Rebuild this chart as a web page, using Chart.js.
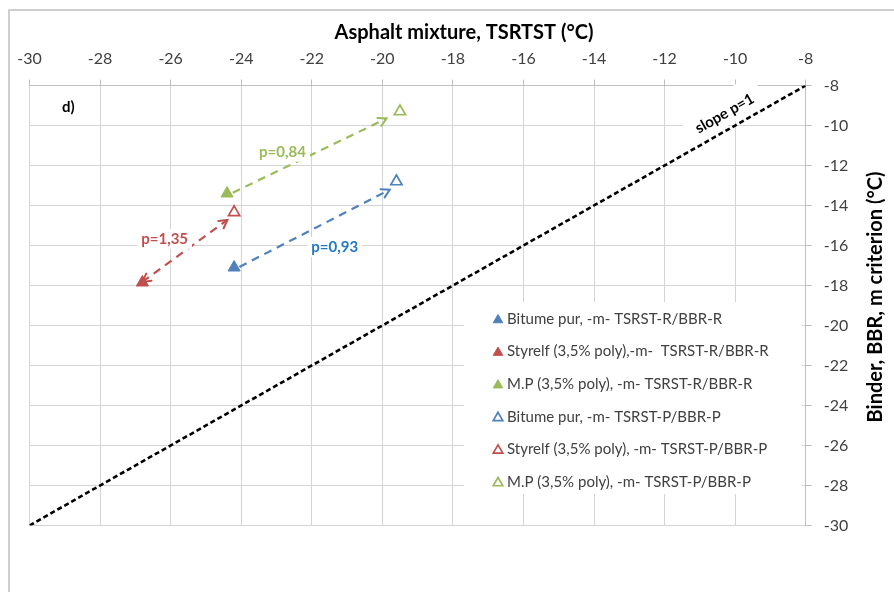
<!DOCTYPE html>
<html>
<head>
<meta charset="utf-8">
<script src="https://cdn.jsdelivr.net/npm/chart.js@4.4.1/dist/chart.umd.min.js"></script>
<style>
  html, body { margin: 0; padding: 0; background: #fff; }
  canvas { display: block; }
</style>
</head>
<body>
<canvas id="chart" width="894" height="592"></canvas>
<script>
// Binders and their colours
const binders = ['Bitume pur', 'Styrelf (3,5% poly)', 'M.P (3,5% poly)'];
const binderColors = ['#4F81BD', '#C0504D', '#9BBB59'];

// Legend texts: R series (filled) then P series (open)
const legendR = [
  'Bitume pur, -m- TSRST-R/BBR-R',
  'Styrelf (3,5% poly),-m-  TSRST-R/BBR-R',
  'M.P (3,5% poly), -m- TSRST-R/BBR-R'
];
const legendP = [
  'Bitume pur, -m- TSRST-P/BBR-P',
  'Styrelf (3,5% poly), -m- TSRST-P/BBR-P',
  'M.P (3,5% poly), -m- TSRST-P/BBR-P'
];

// Mixture TSRST temperature (x) vs binder BBR m-criterion temperature (y), °C
const mixtureR = [-24.2, -26.8, -24.4];
const binderR  = [-17.1, -17.85, -13.4];
const mixtureP = [-19.6, -24.2, -19.5];
const binderP  = [-12.8, -14.34, -9.3];

// Arrows linking R and P results (°C)
const arrowStartX = [-24.05, -26.8, -24.24];
const arrowStartY = [-17.07, -17.82, -13.36];
const arrowEndX   = [-19.79, -24.39, -19.88];
const arrowEndY   = [-13.21, -14.72, -9.65];
const arrowHeads  = ['end', 'both', 'end'];

// Slopes between R and P results
const slopeTexts = ['p=0,93', 'p=1,35', 'p=0,84'];
const slopeTextX = [-21.35, -26.17, -22.83];
const slopeTextY = [-16.07, -15.67, -11.31];

// Equality line and axis ticks
const equalityLine = [-30, -8];
const axisTicks = [-30, -28, -26, -24, -22, -20, -18, -16, -14, -12, -10, -8];

const FONT = 'Lato, "Open Sans", sans-serif';
const TEXT_GREY = '#404040';
const GRID = '#D4D4D4';

const datasets = [];
binders.forEach((b, i) => {
  datasets.push({
    label: legendR[i],
    data: [{ x: mixtureR[i], y: binderR[i] }],
    pointStyle: 'triangle',
    pointRadius: 7,
    pointBackgroundColor: binderColors[i],
    pointBorderColor: binderColors[i],
    pointBorderWidth: 1,
    showLine: false,
    inLegend: true
  });
});
binders.forEach((b, i) => {
  datasets.push({
    label: legendP[i],
    data: [{ x: mixtureP[i], y: binderP[i] }],
    pointStyle: 'triangle',
    pointRadius: 6.5,
    pointBackgroundColor: '#ffffff',
    pointBorderColor: binderColors[i],
    pointBorderWidth: 1.7,
    showLine: false,
    inLegend: true
  });
});
binders.forEach((b, i) => {
  datasets.push({
    label: b + ' R → P',
    data: [
      { x: arrowStartX[i], y: arrowStartY[i] },
      { x: arrowEndX[i], y: arrowEndY[i] }
    ],
    showLine: true,
    borderColor: binderColors[i],
    borderWidth: 2.2,
    borderDash: [8, 6],
    pointRadius: 0,
    arrow: arrowHeads[i]
  });
});
datasets.push({
  label: 'slope p=1',
  data: equalityLine.map(v => ({ x: v, y: v })),
  showLine: true,
  borderColor: '#000000',
  borderWidth: 2.6,
  borderDash: [5, 3],
  pointRadius: 0,
  equality: true
});

// Text placed in data coordinates
const notes = [
  { text: 'd)', x: -28.9, y: -9.1, color: '#000000' }
];
const slopeNote = { text: 'slope p=1', x: -10.3, y: -9.4 };

function drawArrowHead(ctx, from, to, color) {
  const dx = to.x - from.x, dy = to.y - from.y;
  const len = Math.hypot(dx, dy);
  const ux = dx / len, uy = dy / len;
  const L = 8, W = 4.5;
  ctx.save();
  ctx.strokeStyle = color;
  ctx.lineWidth = 2;
  ctx.setLineDash([]);
  ctx.lineCap = 'round';
  ctx.beginPath();
  ctx.moveTo(to.x - ux * L - uy * W, to.y - uy * L + ux * W);
  ctx.lineTo(to.x, to.y);
  ctx.lineTo(to.x - ux * L + uy * W, to.y - uy * L - ux * W);
  ctx.stroke();
  ctx.restore();
}

function slopeGeometry(chart) {
  const meta = chart.getDatasetMeta(chart.data.datasets.findIndex(d => d.equality));
  const a = meta.data[0], b = meta.data[1];
  const angle = Math.atan2(b.y - a.y, b.x - a.x);
  const cx = chart.scales.x.getPixelForValue(slopeNote.x);
  const cy = chart.scales.y.getPixelForValue(slopeNote.y);
  return { angle, cx, cy };
}

const decor = {
  id: 'decor',
  beforeDraw(chart) {
    const ctx = chart.ctx;
    ctx.save();
    ctx.fillStyle = '#ffffff';
    ctx.fillRect(0, 0, chart.width, chart.height);
    ctx.strokeStyle = '#BFBFBF';
    ctx.lineWidth = 1.5;
    ctx.strokeRect(9, 10, chart.width + 20, chart.height + 20);
    ctx.restore();
  },
  beforeDatasetsDraw(chart) {
    // white box behind the equality-line caption
    const ctx = chart.ctx;
    const g = slopeGeometry(chart);
    ctx.save();
    ctx.font = 'bold 15px ' + FONT;
    const w = ctx.measureText(slopeNote.text).width;
    ctx.translate(g.cx, g.cy);
    ctx.rotate(g.angle);
    ctx.fillStyle = '#ffffff';
    ctx.fillRect(-w / 2 - 10, -20, w + 20, 32);
    ctx.restore();
  },
  afterDatasetsDraw(chart) {
    const ctx = chart.ctx;
    const xs = chart.scales.x, ys = chart.scales.y;

    // arrow heads
    chart.data.datasets.forEach((ds, i) => {
      if (!ds.arrow) return;
      const pts = chart.getDatasetMeta(i).data;
      drawArrowHead(ctx, pts[0], pts[1], ds.borderColor);
      if (ds.arrow === 'both') drawArrowHead(ctx, pts[1], pts[0], ds.borderColor);
    });

    // slope captions
    ctx.save();
    ctx.font = 'bold 15px ' + FONT;
    ctx.textAlign = 'center';
    ctx.textBaseline = 'middle';
    const captionColors = ['#1F78C8', binderColors[1], binderColors[2]];
    slopeTexts.forEach((t, i) => {
      const px = xs.getPixelForValue(slopeTextX[i]);
      const py = ys.getPixelForValue(slopeTextY[i]);
      const w = ctx.measureText(t).width;
      ctx.fillStyle = '#ffffff';
      ctx.fillRect(px - w / 2 - 4, py - 10, w + 8, 20);
      ctx.fillStyle = captionColors[i];
      ctx.fillText(t, px, py);
    });
    ctx.restore();

    // equality-line caption
    const g = slopeGeometry(chart);
    ctx.save();
    ctx.font = 'bold 15px ' + FONT;
    ctx.translate(g.cx, g.cy);
    ctx.rotate(g.angle);
    ctx.fillStyle = '#000000';
    ctx.textAlign = 'center';
    ctx.textBaseline = 'middle';
    ctx.fillText(slopeNote.text, 0, 0);
    ctx.restore();

    // panel tag
    ctx.save();
    ctx.font = 'bold 15px ' + FONT;
    ctx.textAlign = 'center';
    ctx.textBaseline = 'middle';
    notes.forEach(n => {
      ctx.fillStyle = n.color;
      ctx.fillText(n.text, xs.getPixelForValue(n.x), ys.getPixelForValue(n.y));
    });
    ctx.restore();

    // legend
    const box = { left: 464, top: 302, right: 802, bottom: 494 };
    ctx.save();
    ctx.fillStyle = '#ffffff';
    ctx.fillRect(box.left, box.top, box.right - box.left, box.bottom - box.top);
    ctx.font = '15px ' + FONT;
    ctx.textAlign = 'left';
    ctx.textBaseline = 'middle';
    let row = 0;
    chart.data.datasets.forEach(ds => {
      if (!ds.inLegend) return;
      const y = 319 + row * 32.6;
      ctx.save();
      ctx.fillStyle = ds.pointBackgroundColor;
      ctx.strokeStyle = ds.pointBorderColor;
      ctx.lineWidth = ds.pointBorderWidth;
      Chart.helpers.drawPoint(ctx, { pointStyle: 'triangle', radius: 5.5, borderWidth: ds.pointBorderWidth, rotation: 0 }, 498, y + 1);
      ctx.restore();
      ctx.fillStyle = TEXT_GREY;
      ctx.fillText(ds.label, 507, y);
      row++;
    });
    ctx.restore();

    // axis titles
    ctx.save();
    ctx.fillStyle = '#000000';
    ctx.font = 'bold 20px ' + FONT;
    ctx.textAlign = 'center';
    ctx.textBaseline = 'middle';
    ctx.fillText('Asphalt mixture, TSRTST (°C)', 464, 33);
    ctx.translate(876, 297);
    ctx.rotate(-Math.PI / 2);
    ctx.fillText('Binder, BBR, m criterion (°C)', 0, 0);
    ctx.restore();
  }
};

const tickSetup = s => { s.ticks = axisTicks.map(v => ({ value: v })); };

new Chart(document.getElementById('chart'), {
  type: 'scatter',
  data: { datasets },
  options: {
    responsive: false,
    animation: false,
    devicePixelRatio: 1,
    layout: { padding: { left: 29.5, right: 0, top: 0, bottom: 66.5 } },
    plugins: { legend: { display: false }, tooltip: { enabled: false } },
    scales: {
      x: {
        type: 'linear',
        position: 'top',
        min: -30, max: -8,
        afterBuildTicks: tickSetup,
        afterFit: s => { s.height = 85.5; },
        ticks: { font: { family: FONT, size: 16 }, color: TEXT_GREY, padding: 11, maxRotation: 0 },
        grid: { color: GRID, lineWidth: 1, tickLength: 6, tickColor: '#BFBFBF' },
        border: { display: true, color: '#BFBFBF', width: 1 }
      },
      y: {
        type: 'linear',
        position: 'right',
        min: -30, max: -8,
        afterBuildTicks: tickSetup,
        afterFit: s => { s.width = 88.3; },
        ticks: { font: { family: FONT, size: 16 }, color: TEXT_GREY, padding: 12 },
        grid: { color: GRID, lineWidth: 1, tickLength: 6, tickColor: '#BFBFBF' },
        border: { display: true, color: '#BFBFBF', width: 1 }
      }
    }
  },
  plugins: [decor]
});
</script>
</body>
</html>
